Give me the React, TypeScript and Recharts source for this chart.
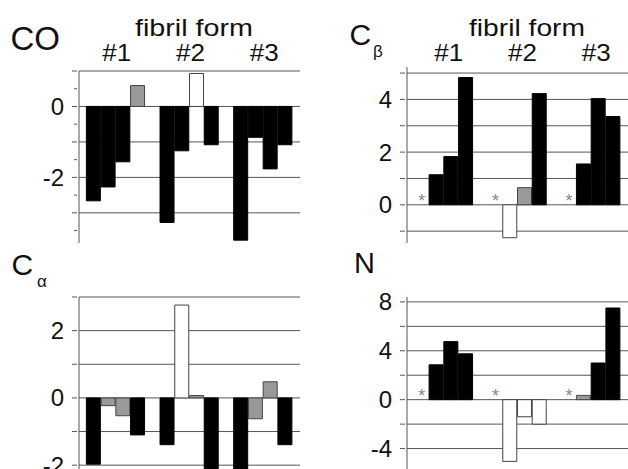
import { ComposedChart, Bar, Cell, XAxis, YAxis, CartesianGrid, Scatter } from "recharts";

// 4 residues per fibril form, one empty slot between forms
const slots = ["1a", "1b", "1c", "1d", "g1", "2a", "2b", "2c", "2d", "g2", "3a", "3b", "3c", "3d"];

// b = black, g = gray, w = white
const coValues = [-2.66, -2.27, -1.56, 0.59, null, -3.27, -1.25, 0.93, -1.08, null, -3.77, -0.87, -1.76, -1.08];
const coKinds = ["b", "b", "b", "g", "", "b", "b", "w", "b", "", "b", "b", "b", "b"];

const cbValues = [null, 1.14, 1.83, 4.83, null, null, -1.25, 0.65, 4.22, null, null, 1.55, 4.03, 3.35];
const cbKinds = ["", "b", "b", "b", "", "", "w", "g", "b", "", "", "b", "b", "b"];
const cbStars = [0, null, null, null, null, 0, null, null, null, null, 0, null, null, null];

const caValues = [-1.97, -0.23, -0.53, -1.1, null, -1.39, 2.76, 0.07, -2.4, null, -2.4, -0.62, 0.48, -1.39];
const caKinds = ["b", "g", "g", "b", "", "b", "w", "g", "b", "", "b", "g", "g", "b"];

const nValues = [null, 2.85, 4.75, 3.75, null, null, -5.05, -1.4, -2.0, null, null, 0.35, 3.0, 7.5];
const nKinds = ["", "b", "b", "b", "", "", "w", "w", "w", "", "", "g", "b", "b"];
const nStars = [0, null, null, null, null, 0, null, null, null, null, 0, null, null, null];

// group label sits between the 2nd and 3rd bar of each form
const groupSlots = ["1b", "2b", "3b"];
const groupNames = ["#1", "#2", "#3"];

const coTicks = [-3.5, -3, -2.5, -2, -1.5, -1, -0.5, 0, 0.5, 1];
const coGrid = [-3, -2, -1, 0, 1];
const coLabels = [0, -2];
const cbGrid = [-1, 0, 1, 2, 3, 4, 5];
const cbLabels = [0, 2, 4];
const caGrid = [-2, -1, 0, 1, 2, 3];
const caLabels = [-2, 0, 2];
const nGrid = [-6, -4, -2, 0, 2, 4, 6, 8];
const nLabels = [-4, 0, 4, 8];

const LINE = "#555";
const FILLS: Record<string, string> = { b: "#000", g: "#999", w: "#fff" };
const FONT = "'Liberation Sans', Arial, sans-serif";
const HALF_SLOT = 7.37;

const build = (values: (number | null)[], stars?: (number | null)[]) =>
  slots.map((k, i) => ({ k, v: values[i], star: stars ? stars[i] : null }));

const makeYTick = (grid: number[], labels: number[]) => (props: any) => {
  const { x, y, payload } = props;
  const v = payload.value;
  const major = grid.includes(v);
  return (
    <g>
      <line x1={x - (major ? 5 : 3)} x2={x} y1={y} y2={y} stroke={LINE} />
      {labels.includes(v) && (
        <text x={x - 13} y={y + 8.5} textAnchor="end" fontSize={24} fill="#111" fontFamily={FONT}>
          {v}
        </text>
      )}
    </g>
  );
};

const makeGroupTick = (dx: number, lift: number) => (props: any) => {
  const { x, y, payload } = props;
  const gi = groupSlots.indexOf(payload.value);
  if (gi < 0) return <g />;
  return (
    <text
      x={x + HALF_SLOT + dx}
      y={y - lift}
      textAnchor="middle"
      fontSize={23}
      fill="#111"
      fontFamily={FONT}
      textLength={29}
      lengthAdjust="spacingAndGlyphs"
    >
      {groupNames[gi]}
    </text>
  );
};

const Star = (p: any) =>
  p.payload?.star == null ? (
    <g />
  ) : (
    <text x={p.cx} y={p.cy + 2} textAnchor="middle" fontSize={18} fill="#888" fontFamily={FONT}>
      *
    </text>
  );

type PanelProps = {
  left: number;
  top: number;
  height: number;
  margin: { top: number; right: number; bottom: number; left: number };
  values: (number | null)[];
  kinds: string[];
  stars?: (number | null)[];
  domain: [number, number];
  ticks: number[];
  grid: number[];
  labels: number[];
  groupTick?: (p: any) => any;
};

const Panel = ({ left, top, height, margin, values, kinds, stars, domain, ticks, grid, labels, groupTick }: PanelProps) => (
  <div style={{ position: "absolute", left, top }}>
    <ComposedChart width={314} height={height} data={build(values, stars)} margin={margin}>
      <CartesianGrid horizontal vertical={false} horizontalValues={grid} stroke={LINE} strokeWidth={1} />
      {groupTick ? (
        <XAxis
          dataKey="k"
          type="category"
          orientation="top"
          padding={{ left: HALF_SLOT, right: HALF_SLOT }}
          interval={0}
          axisLine={false}
          tickLine={false}
          tickSize={0}
          height={40}
          tick={groupTick}
        />
      ) : (
        <XAxis dataKey="k" type="category" hide padding={{ left: HALF_SLOT, right: HALF_SLOT }} />
      )}
      <YAxis
        type="number"
        domain={domain}
        allowDataOverflow
        ticks={ticks}
        interval={0}
        width={40}
        tickSize={0}
        tickLine={false}
        axisLine={{ stroke: LINE }}
        tick={makeYTick(grid, labels)}
      />
      <Bar dataKey="v" barSize={14} isAnimationActive={false}>
        {kinds.map((kind, i) => (
          <Cell key={i} fill={FILLS[kind] || "none"} stroke={kind === "b" ? "#000" : "#444"} strokeWidth={1} />
        ))}
      </Bar>
      {stars && <Scatter dataKey="star" shape={Star} isAnimationActive={false} />}
    </ComposedChart>
  </div>
);

export default function App() {
  return (
    <div
      style={{
        position: "absolute",
        left: 0,
        top: 0,
        width: 628,
        height: 469,
        overflow: "hidden",
        background: "#fff",
        fontFamily: FONT,
      }}
    >
      <Panel
        left={0}
        top={0}
        height={250}
        margin={{ top: 31, right: 14, bottom: 7, left: 39 }}
        values={coValues}
        kinds={coKinds}
        domain={[-3.85, 1]}
        ticks={coTicks}
        grid={coGrid}
        labels={coLabels}
        groupTick={makeGroupTick(1, 8)}
      />
      <Panel
        left={314}
        top={0}
        height={250}
        margin={{ top: 27, right: 0, bottom: 7, left: 53 }}
        values={cbValues}
        kinds={cbKinds}
        stars={cbStars}
        domain={[-1.45, 5.23]}
        ticks={cbGrid}
        grid={cbGrid}
        labels={cbLabels}
        groupTick={makeGroupTick(5, 4)}
      />
      <Panel
        left={0}
        top={240}
        height={242}
        margin={{ top: 57, right: 14, bottom: 0, left: 39 }}
        values={caValues}
        kinds={caKinds}
        domain={[-2.5, 3]}
        ticks={caGrid}
        grid={caGrid}
        labels={caLabels}
      />
      <Panel
        left={314}
        top={240}
        height={233}
        margin={{ top: 57, right: 0, bottom: 0, left: 53 }}
        values={nValues}
        kinds={nKinds}
        stars={nStars}
        domain={[-6, 8.4]}
        ticks={nGrid}
        grid={nGrid}
        labels={nLabels}
      />
      <svg width={628} height={469} style={{ position: "absolute", left: 0, top: 0, pointerEvents: "none" }} fontFamily={FONT} fill="#111">
        <text x={10.5} y={50} fontSize={33}>CO</text>
        <text x={194} y={36} fontSize={24} textAnchor="middle" textLength={118} lengthAdjust="spacingAndGlyphs">fibril form</text>
        <text x={349.5} y={45} fontSize={30}>C</text>
        <text x={373} y={57} fontSize={17}>β</text>
        <text x={527} y={36} fontSize={24} textAnchor="middle" textLength={116} lengthAdjust="spacingAndGlyphs">fibril form</text>
        <text x={11.5} y={275} fontSize={30}>C</text>
        <text x={37} y={287} fontSize={17}>α</text>
        <text x={354} y={273} fontSize={29}>N</text>
      </svg>
    </div>
  );
}
